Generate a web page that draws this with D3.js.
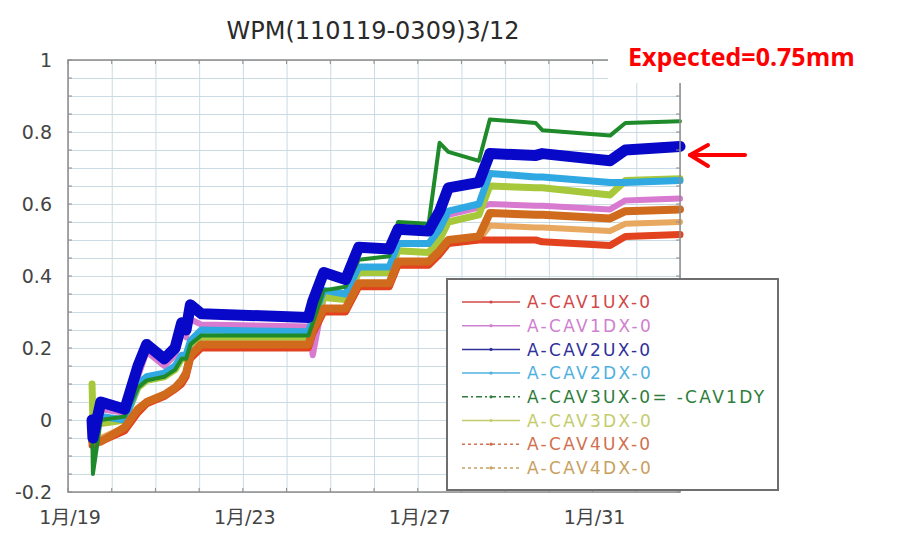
<!DOCTYPE html>
<html lang="ja">
  <head>
    <meta charset="UTF-8" />
    <title>WPM</title>
    <script src="https://d3js.org/d3.v7.min.js"></script>
    <style>
      body {
        margin: 0;
        background: #ffffff;
      }
      svg {
        display: block;
        font-family: "DejaVu Sans", "Noto Sans CJK JP", sans-serif;
      }
      .grid line {
        stroke: #cbdbe3;
        stroke-width: 1;
      }
      .grid path {
        display: none;
      }
      .series {
        fill: none;
        stroke-linejoin: round;
        stroke-linecap: round;
      }
    </style>
  </head>
  <body>
    <svg id="chart" width="904" height="535"></svg>
  </body>
  <script>
    const title = "WPM(110119-0309)3/12";
    const note = "Expected=0.75mm";

    // days since 1/19 00:00
    const days = [0.55, 0.57, 0.75, 1.3, 1.6, 1.8, 2.2, 2.45, 2.6, 2.7, 2.8, 3.05,
      5.5, 5.6, 5.85, 6.35, 6.65, 7.35, 7.55, 8.25, 8.5, 8.7, 9.4, 9.65,
      10.7, 10.85, 12.4, 12.75, 14.0];

    const cav1ux = [-0.07, -0.07, -0.06, -0.03, 0.02, 0.045, 0.065, 0.085, 0.1, 0.12, 0.17, 0.2,
      0.2, 0.24, 0.3, 0.3, 0.37, 0.37, 0.43, 0.43, 0.46, 0.49, 0.5, 0.5,
      0.5, 0.495, 0.485, 0.51, 0.515];
    const cav1dx = [0.0, -0.05, 0.03, 0.02, 0.12, 0.19, 0.15, 0.18, 0.24, 0.23, 0.28, 0.265,
      0.26, 0.18, 0.34, 0.34, 0.42, 0.42, 0.49, 0.49, 0.52, 0.57, 0.59, 0.6,
      0.595, 0.595, 0.585, 0.61, 0.615];
    const cav2ux = [0.0, -0.05, 0.05, 0.03, 0.15, 0.21, 0.17, 0.2, 0.27, 0.25, 0.32, 0.295,
      0.285, 0.33, 0.41, 0.39, 0.48, 0.475, 0.53, 0.525, 0.58, 0.645, 0.66, 0.74,
      0.735, 0.74, 0.72, 0.75, 0.76];
    const cav2dx = [0.0, -0.05, 0.01, 0.0, 0.1, 0.12, 0.13, 0.15, 0.18, 0.18, 0.22, 0.25,
      0.245, 0.28, 0.36, 0.35, 0.425, 0.425, 0.49, 0.49, 0.53, 0.58, 0.6, 0.685,
      0.675, 0.675, 0.66, 0.66, 0.665];
    const cav3ux = [0.0, -0.15, 0.0, 0.01, 0.09, 0.11, 0.12, 0.14, 0.17, 0.17, 0.21, 0.235,
      0.235, 0.27, 0.36, 0.37, 0.445, 0.455, 0.55, 0.545, 0.77, 0.745, 0.72, 0.835,
      0.825, 0.805, 0.79, 0.825, 0.83];
    const cav3dx = [0.1, 0.0, -0.01, 0.0, 0.09, 0.11, 0.12, 0.14, 0.17, 0.17, 0.21, 0.23,
      0.23, 0.26, 0.34, 0.335, 0.41, 0.41, 0.47, 0.465, 0.5, 0.55, 0.57, 0.65,
      0.645, 0.645, 0.625, 0.665, 0.67];
    const cav4ux = [-0.06, -0.06, -0.06, -0.02, 0.03, 0.05, 0.07, 0.09, 0.11, 0.13, 0.18, 0.21,
      0.21, 0.25, 0.31, 0.31, 0.38, 0.38, 0.44, 0.44, 0.47, 0.5, 0.51, 0.575,
      0.57, 0.57, 0.56, 0.58, 0.585];
    const cav4dx = [-0.05, -0.05, -0.05, -0.02, 0.03, 0.05, 0.07, 0.09, 0.11, 0.13, 0.18, 0.205,
      0.205, 0.24, 0.3, 0.3, 0.37, 0.37, 0.43, 0.43, 0.46, 0.49, 0.5, 0.54,
      0.535, 0.535, 0.525, 0.545, 0.55];

    const seriesNames = ["A-CAV1UX-0", "A-CAV1DX-0", "A-CAV2UX-0", "A-CAV2DX-0",
      "A-CAV3UX-0= -CAV1DY", "A-CAV3DX-0", "A-CAV4UX-0", "A-CAV4DX-0"];
    const seriesValues = [cav1ux, cav1dx, cav2ux, cav2dx, cav3ux, cav3dx, cav4ux, cav4dx];

    const xTickDays = [0, 4, 8, 12];
    const xTickLabels = ["1月/19", "1月/23", "1月/27", "1月/31"];
    const yTicks = [-0.2, 0, 0.2, 0.4, 0.6, 0.8, 1];

    const lineColors = ["#e2421e", "#d87ad0", "#0808c8", "#30a8e2",
      "#1f8a2a", "#a6c83a", "#d06a1c", "#e8a860"];
    const textColors = ["#d24848", "#d080d0", "#30309a", "#50b0e0",
      "#2e7d3a", "#c4cc6c", "#d07050", "#c8a060"];
    const widths = [7, 6, 11, 7, 4, 7, 8, 6];
    const dashes = [null, null, null, null, "6,3,2,3", null, "3,3", "3,3"];
    const drawOrder = [1, 7, 0, 5, 3, 6, 4, 2];

    const svg = d3.select("#chart");
    const margin = { left: 68, right: 224, top: 60, bottom: 43 };
    const W = 904, H = 535;

    const x = d3.scaleLinear().domain([0, 14]).range([margin.left, W - margin.right]);
    const y = d3.scaleLinear().domain([-0.2, 1]).range([H - margin.bottom, margin.top]);

    // grid
    svg.append("g")
      .attr("class", "grid")
      .attr("transform", `translate(0,${y(-0.2)})`)
      .call(d3.axisBottom(x).tickValues(d3.range(0, 15)).tickSize(-(y(-0.2) - y(1))).tickFormat(""));
    svg.append("g")
      .attr("class", "grid")
      .attr("transform", `translate(${x(0)},0)`)
      .call(d3.axisLeft(y).tickValues(d3.range(-4, 21).map((i) => i * 0.05)).tickSize(-(x(14) - x(0))).tickFormat(""));

    // series
    const line = d3.line()
      .x((d) => x(d[0]))
      .y((d) => y(d[1]));

    drawOrder.forEach((i) => {
      svg.append("path")
        .attr("class", "series")
        .attr("d", line(days.map((t, k) => [t, seriesValues[i][k]])))
        .attr("stroke", lineColors[i])
        .attr("stroke-width", widths[i]);
    });

    // frame + inner ticks
    const frame = svg.append("g").attr("stroke", "#8c8c8c").attr("fill", "none");
    frame.append("rect")
      .attr("x", x(0)).attr("y", y(1))
      .attr("width", x(14) - x(0)).attr("height", y(-0.2) - y(1))
      .attr("stroke-width", 1.5);
    d3.range(-4, 21).forEach((i) => {
      const v = i * 0.05;
      frame.append("line").attr("x1", x(0)).attr("x2", x(0) + 4).attr("y1", y(v)).attr("y2", y(v));
      frame.append("line").attr("x1", x(14)).attr("x2", x(14) - 4).attr("y1", y(v)).attr("y2", y(v));
    });
    d3.range(0, 15).forEach((d) => {
      frame.append("line").attr("x1", x(d)).attr("x2", x(d)).attr("y1", y(-0.2)).attr("y2", y(-0.2) - 4);
      frame.append("line").attr("x1", x(d)).attr("x2", x(d)).attr("y1", y(1)).attr("y2", y(1) + 4);
    });

    // axis labels
    svg.append("g")
      .selectAll("text")
      .data(yTicks)
      .join("text")
      .attr("x", 52)
      .attr("y", (d) => y(d))
      .attr("dy", "0.36em")
      .attr("text-anchor", "end")
      .attr("font-size", 19)
      .attr("fill", "#444")
      .text((d) => String(+d.toFixed(1)));

    svg.append("g")
      .selectAll("text")
      .data(xTickDays)
      .join("text")
      .attr("x", (d) => x(d) + 2)
      .attr("y", 524)
      .attr("text-anchor", "middle")
      .attr("font-size", 19)
      .attr("fill", "#444")
      .text((d, i) => xTickLabels[i]);

    // title
    svg.append("text")
      .attr("x", 373)
      .attr("y", 39)
      .attr("text-anchor", "middle")
      .attr("font-size", 24)
      .attr("fill", "#2a2a2a")
      .text(title);

    // legend
    const lg = svg.append("g");
    lg.append("rect")
      .attr("x", 447).attr("y", 279).attr("width", 331).attr("height", 211)
      .attr("fill", "#fff").attr("stroke", "#6e6e6e").attr("stroke-width", 2);
    seriesNames.forEach((name, i) => {
      const ry = 302 + i * 23.7;
      lg.append("line")
        .attr("x1", 462).attr("x2", 520).attr("y1", ry).attr("y2", ry)
        .attr("stroke", textColors[i]).attr("stroke-width", 1.5)
        .attr("stroke-dasharray", dashes[i]);
      lg.append("circle")
        .attr("cx", 491).attr("cy", ry).attr("r", 1.6)
        .attr("fill", textColors[i]);
      lg.append("text")
        .attr("x", 527).attr("y", ry).attr("dy", "0.36em")
        .attr("font-size", 17)
        .attr("letter-spacing", 2.3)
        .attr("fill", textColors[i])
        .text(name);
    });

    // annotation
    svg.append("rect")
      .attr("x", 608).attr("y", 0).attr("width", W - 608).attr("height", 83)
      .attr("fill", "#fff");
    svg.append("text")
      .attr("x", 628).attr("y", 66)
      .attr("font-family", "'Open Sans', sans-serif")
      .attr("font-weight", 700)
      .attr("font-size", 25)
      .attr("fill", "#ff0000")
      .text(note);
    const arrow = svg.append("g").attr("stroke", "#ff0000").attr("stroke-width", 4)
      .attr("fill", "none").attr("stroke-linecap", "round").attr("stroke-linejoin", "round");
    arrow.append("line").attr("x1", 745).attr("x2", 690).attr("y1", 155).attr("y2", 155);
    arrow.append("polyline").attr("points", "708,145 690,155 708,166");
  </script>
</html>
